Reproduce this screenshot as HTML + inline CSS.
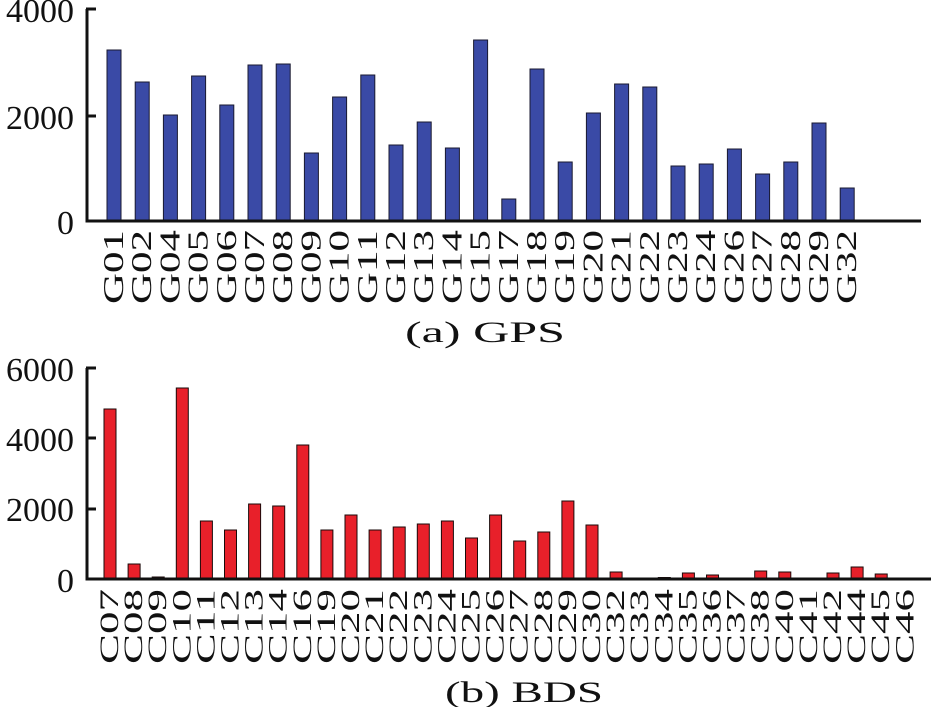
<!DOCTYPE html>
<html><head><meta charset="utf-8"><style>body{margin:0;background:#fff}svg{display:block}text{font-family:"Liberation Serif","DejaVu Serif",serif;fill:#111}</style></head><body>
<svg width="940" height="707" xmlns="http://www.w3.org/2000/svg">
<g font-size="34" text-anchor="end">
<text x="74" y="22">4000</text><text x="74" y="129">2000</text><text x="74" y="234">0</text>
<text x="74" y="381">6000</text><text x="74" y="451">4000</text><text x="74" y="521">2000</text><text x="74" y="592">0</text>
</g>
<g fill="#3a4aa6" stroke="#1a1a30" stroke-width="1">
<rect x="107" y="50" width="14" height="171"/><rect x="135.2" y="82" width="14" height="139"/><rect x="163.4" y="115" width="14" height="106"/><rect x="191.6" y="76" width="14" height="145"/><rect x="219.8" y="105" width="14" height="116"/><rect x="248" y="65" width="14" height="156"/><rect x="276.2" y="64" width="14" height="157"/><rect x="304.4" y="153" width="14" height="68"/><rect x="332.6" y="97" width="14" height="124"/><rect x="360.8" y="75" width="14" height="146"/><rect x="389" y="145" width="14" height="76"/><rect x="417.2" y="122" width="14" height="99"/><rect x="445.4" y="148" width="14" height="73"/><rect x="473.6" y="40" width="14" height="181"/><rect x="501.8" y="199" width="14" height="22"/><rect x="530" y="69" width="14" height="152"/><rect x="558.2" y="162" width="14" height="59"/><rect x="586.4" y="113" width="14" height="108"/><rect x="614.6" y="84" width="14" height="137"/><rect x="642.8" y="87" width="14" height="134"/><rect x="671" y="166" width="14" height="55"/><rect x="699.2" y="164" width="14" height="57"/><rect x="727.4" y="149" width="14" height="72"/><rect x="755.6" y="174" width="14" height="47"/><rect x="783.8" y="162" width="14" height="59"/><rect x="812" y="123" width="14" height="98"/><rect x="840.2" y="188" width="14" height="33"/>
</g>
<g stroke="#111" stroke-width="3" fill="none"><path d="M87 9V221H921"/><path d="M86 9h10M86 116h10"/></g>
<g font-size="28" text-anchor="start">
<text transform="translate(123,304) rotate(-90)" textLength="74" lengthAdjust="spacingAndGlyphs">G01</text><text transform="translate(151.2,304) rotate(-90)" textLength="74" lengthAdjust="spacingAndGlyphs">G02</text><text transform="translate(179.4,304) rotate(-90)" textLength="74" lengthAdjust="spacingAndGlyphs">G04</text><text transform="translate(207.6,304) rotate(-90)" textLength="74" lengthAdjust="spacingAndGlyphs">G05</text><text transform="translate(235.8,304) rotate(-90)" textLength="74" lengthAdjust="spacingAndGlyphs">G06</text><text transform="translate(264,304) rotate(-90)" textLength="74" lengthAdjust="spacingAndGlyphs">G07</text><text transform="translate(292.2,304) rotate(-90)" textLength="74" lengthAdjust="spacingAndGlyphs">G08</text><text transform="translate(320.4,304) rotate(-90)" textLength="74" lengthAdjust="spacingAndGlyphs">G09</text><text transform="translate(348.6,304) rotate(-90)" textLength="74" lengthAdjust="spacingAndGlyphs">G10</text><text transform="translate(376.8,304) rotate(-90)" textLength="74" lengthAdjust="spacingAndGlyphs">G11</text><text transform="translate(405,304) rotate(-90)" textLength="74" lengthAdjust="spacingAndGlyphs">G12</text><text transform="translate(433.2,304) rotate(-90)" textLength="74" lengthAdjust="spacingAndGlyphs">G13</text><text transform="translate(461.4,304) rotate(-90)" textLength="74" lengthAdjust="spacingAndGlyphs">G14</text><text transform="translate(489.6,304) rotate(-90)" textLength="74" lengthAdjust="spacingAndGlyphs">G15</text><text transform="translate(517.8,304) rotate(-90)" textLength="74" lengthAdjust="spacingAndGlyphs">G17</text><text transform="translate(546,304) rotate(-90)" textLength="74" lengthAdjust="spacingAndGlyphs">G18</text><text transform="translate(574.2,304) rotate(-90)" textLength="74" lengthAdjust="spacingAndGlyphs">G19</text><text transform="translate(602.4,304) rotate(-90)" textLength="74" lengthAdjust="spacingAndGlyphs">G20</text><text transform="translate(630.6,304) rotate(-90)" textLength="74" lengthAdjust="spacingAndGlyphs">G21</text><text transform="translate(658.8,304) rotate(-90)" textLength="74" lengthAdjust="spacingAndGlyphs">G22</text><text transform="translate(687,304) rotate(-90)" textLength="74" lengthAdjust="spacingAndGlyphs">G23</text><text transform="translate(715.2,304) rotate(-90)" textLength="74" lengthAdjust="spacingAndGlyphs">G24</text><text transform="translate(743.4,304) rotate(-90)" textLength="74" lengthAdjust="spacingAndGlyphs">G26</text><text transform="translate(771.6,304) rotate(-90)" textLength="74" lengthAdjust="spacingAndGlyphs">G27</text><text transform="translate(799.8,304) rotate(-90)" textLength="74" lengthAdjust="spacingAndGlyphs">G28</text><text transform="translate(828,304) rotate(-90)" textLength="74" lengthAdjust="spacingAndGlyphs">G29</text><text transform="translate(856.2,304) rotate(-90)" textLength="74" lengthAdjust="spacingAndGlyphs">G32</text>
</g>
<text x="405" y="342" font-size="30" textLength="160" lengthAdjust="spacingAndGlyphs">(a) GPS</text>

<g fill="#e8202a" stroke="#1a0a0a" stroke-width="1">
<rect x="104" y="409" width="12" height="170"/><rect x="128.1" y="564" width="12" height="15"/><rect x="152.2" y="577" width="12" height="2"/><rect x="176.3" y="388" width="12" height="191"/><rect x="200.4" y="521" width="12" height="58"/><rect x="224.5" y="530" width="12" height="49"/><rect x="248.6" y="504" width="12" height="75"/><rect x="272.7" y="506" width="12" height="73"/><rect x="296.8" y="445" width="12" height="134"/><rect x="320.9" y="530" width="12" height="49"/><rect x="345" y="515" width="12" height="64"/><rect x="369.1" y="530" width="12" height="49"/><rect x="393.2" y="527" width="12" height="52"/><rect x="417.3" y="524" width="12" height="55"/><rect x="441.4" y="521" width="12" height="58"/><rect x="465.5" y="538" width="12" height="41"/><rect x="489.6" y="515" width="12" height="64"/><rect x="513.7" y="541" width="12" height="38"/><rect x="537.8" y="532" width="12" height="47"/><rect x="561.9" y="501" width="12" height="78"/><rect x="586" y="525" width="12" height="54"/><rect x="610.1" y="572" width="12" height="7"/><rect x="658.3" y="577.5" width="12" height="1.5"/><rect x="682.4" y="573" width="12" height="6"/><rect x="706.5" y="575" width="12" height="4"/><rect x="730.6" y="578" width="12" height="1"/><rect x="754.7" y="571" width="12" height="8"/><rect x="778.8" y="572" width="12" height="7"/><rect x="827" y="573" width="12" height="6"/><rect x="851.1" y="567" width="12" height="12"/><rect x="875.2" y="574" width="12" height="5"/>
</g>
<g stroke="#111" stroke-width="3" fill="none"><path d="M87 368V579H931"/><path d="M86 368h10M86 438h10M86 509h10"/></g>
<g font-size="26" text-anchor="start">
<text transform="translate(118,664) rotate(-90)" textLength="75" lengthAdjust="spacingAndGlyphs">C07</text><text transform="translate(142.1,664) rotate(-90)" textLength="75" lengthAdjust="spacingAndGlyphs">C08</text><text transform="translate(166.2,664) rotate(-90)" textLength="75" lengthAdjust="spacingAndGlyphs">C09</text><text transform="translate(190.3,664) rotate(-90)" textLength="75" lengthAdjust="spacingAndGlyphs">C10</text><text transform="translate(214.4,664) rotate(-90)" textLength="75" lengthAdjust="spacingAndGlyphs">C11</text><text transform="translate(238.5,664) rotate(-90)" textLength="75" lengthAdjust="spacingAndGlyphs">C12</text><text transform="translate(262.6,664) rotate(-90)" textLength="75" lengthAdjust="spacingAndGlyphs">C13</text><text transform="translate(286.7,664) rotate(-90)" textLength="75" lengthAdjust="spacingAndGlyphs">C14</text><text transform="translate(310.8,664) rotate(-90)" textLength="75" lengthAdjust="spacingAndGlyphs">C16</text><text transform="translate(334.9,664) rotate(-90)" textLength="75" lengthAdjust="spacingAndGlyphs">C19</text><text transform="translate(359,664) rotate(-90)" textLength="75" lengthAdjust="spacingAndGlyphs">C20</text><text transform="translate(383.1,664) rotate(-90)" textLength="75" lengthAdjust="spacingAndGlyphs">C21</text><text transform="translate(407.2,664) rotate(-90)" textLength="75" lengthAdjust="spacingAndGlyphs">C22</text><text transform="translate(431.3,664) rotate(-90)" textLength="75" lengthAdjust="spacingAndGlyphs">C23</text><text transform="translate(455.4,664) rotate(-90)" textLength="75" lengthAdjust="spacingAndGlyphs">C24</text><text transform="translate(479.5,664) rotate(-90)" textLength="75" lengthAdjust="spacingAndGlyphs">C25</text><text transform="translate(503.6,664) rotate(-90)" textLength="75" lengthAdjust="spacingAndGlyphs">C26</text><text transform="translate(527.7,664) rotate(-90)" textLength="75" lengthAdjust="spacingAndGlyphs">C27</text><text transform="translate(551.8,664) rotate(-90)" textLength="75" lengthAdjust="spacingAndGlyphs">C28</text><text transform="translate(575.9,664) rotate(-90)" textLength="75" lengthAdjust="spacingAndGlyphs">C29</text><text transform="translate(600,664) rotate(-90)" textLength="75" lengthAdjust="spacingAndGlyphs">C30</text><text transform="translate(624.1,664) rotate(-90)" textLength="75" lengthAdjust="spacingAndGlyphs">C32</text><text transform="translate(648.2,664) rotate(-90)" textLength="75" lengthAdjust="spacingAndGlyphs">C33</text><text transform="translate(672.3,664) rotate(-90)" textLength="75" lengthAdjust="spacingAndGlyphs">C34</text><text transform="translate(696.4,664) rotate(-90)" textLength="75" lengthAdjust="spacingAndGlyphs">C35</text><text transform="translate(720.5,664) rotate(-90)" textLength="75" lengthAdjust="spacingAndGlyphs">C36</text><text transform="translate(744.6,664) rotate(-90)" textLength="75" lengthAdjust="spacingAndGlyphs">C37</text><text transform="translate(768.7,664) rotate(-90)" textLength="75" lengthAdjust="spacingAndGlyphs">C38</text><text transform="translate(792.8,664) rotate(-90)" textLength="75" lengthAdjust="spacingAndGlyphs">C40</text><text transform="translate(816.9,664) rotate(-90)" textLength="75" lengthAdjust="spacingAndGlyphs">C41</text><text transform="translate(841,664) rotate(-90)" textLength="75" lengthAdjust="spacingAndGlyphs">C42</text><text transform="translate(865.1,664) rotate(-90)" textLength="75" lengthAdjust="spacingAndGlyphs">C44</text><text transform="translate(889.2,664) rotate(-90)" textLength="75" lengthAdjust="spacingAndGlyphs">C45</text><text transform="translate(913.3,664) rotate(-90)" textLength="75" lengthAdjust="spacingAndGlyphs">C46</text>
</g>
<text x="445" y="702" font-size="30" textLength="158" lengthAdjust="spacingAndGlyphs">(b) BDS</text>
</svg>
</body></html>
